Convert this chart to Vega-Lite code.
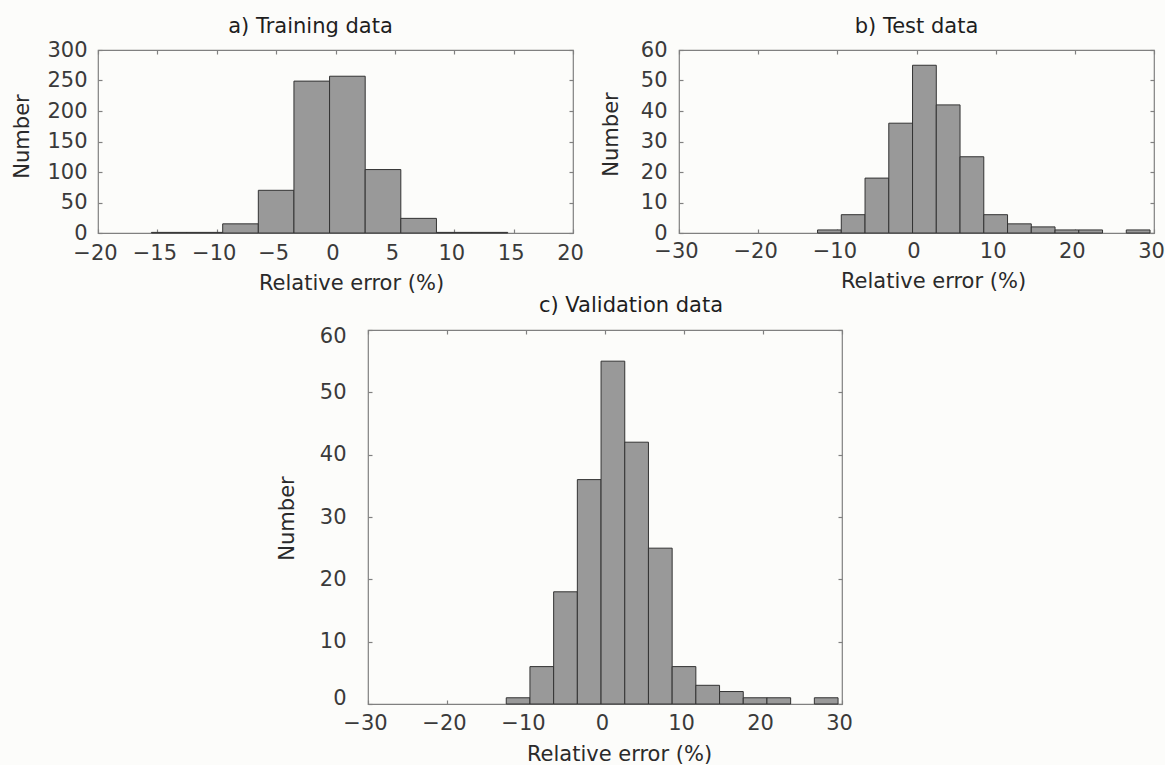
{
  "$schema": "https://vega.github.io/schema/vega-lite/v6.json",
  "background": "#fcfcfa",
  "padding": {"left": 10, "top": 15, "right": 0, "bottom": 0},
  "config": {
    "font": "DejaVu Sans",
    "view": {"stroke": "#808080", "strokeWidth": 1.2},
    "axis": {
      "domain": false,
      "grid": false,
      "tickColor": "#808080",
      "tickSize": -4,
      "tickWidth": 1.2,
      "labelFont": "DejaVu Sans",
      "labelFontSize": 21,
      "labelColor": "#3a3a3a",
      "labelOverlap": false,
      "titleFont": "DejaVu Sans",
      "titleFontSize": 21,
      "titleFontWeight": "normal",
      "titleColor": "#2a2a2a"
    },
    "title": {
      "font": "DejaVu Sans",
      "fontSize": 21,
      "fontWeight": "normal",
      "color": "#1e1e1e",
      "anchor": "middle",
      "frame": "group",
      "baseline": "bottom"
    }
  },
  "datasets": {
    "train": [
      {"lo": -15.5, "hi": -12.5, "count": 1},
      {"lo": -12.5, "hi": -9.5, "count": 1},
      {"lo": -9.5, "hi": -6.5, "count": 15},
      {"lo": -6.5, "hi": -3.5, "count": 70},
      {"lo": -3.5, "hi": -0.5, "count": 249},
      {"lo": -0.5, "hi": 2.5, "count": 257},
      {"lo": 2.5, "hi": 5.5, "count": 104},
      {"lo": 5.5, "hi": 8.5, "count": 24},
      {"lo": 8.5, "hi": 11.5, "count": 1},
      {"lo": 11.5, "hi": 14.5, "count": 1}
    ],
    "test": [
      {"lo": -12.5, "hi": -9.5, "count": 1},
      {"lo": -9.5, "hi": -6.5, "count": 6},
      {"lo": -6.5, "hi": -3.5, "count": 18},
      {"lo": -3.5, "hi": -0.5, "count": 36},
      {"lo": -0.5, "hi": 2.5, "count": 55},
      {"lo": 2.5, "hi": 5.5, "count": 42},
      {"lo": 5.5, "hi": 8.5, "count": 25},
      {"lo": 8.5, "hi": 11.5, "count": 6},
      {"lo": 11.5, "hi": 14.5, "count": 3},
      {"lo": 14.5, "hi": 17.5, "count": 2},
      {"lo": 17.5, "hi": 20.5, "count": 1},
      {"lo": 20.5, "hi": 23.5, "count": 1},
      {"lo": 26.5, "hi": 29.5, "count": 1}
    ],
    "valid": [
      {"lo": -12.5, "hi": -9.5, "count": 1},
      {"lo": -9.5, "hi": -6.5, "count": 6},
      {"lo": -6.5, "hi": -3.5, "count": 18},
      {"lo": -3.5, "hi": -0.5, "count": 36},
      {"lo": -0.5, "hi": 2.5, "count": 55},
      {"lo": 2.5, "hi": 5.5, "count": 42},
      {"lo": 5.5, "hi": 8.5, "count": 25},
      {"lo": 8.5, "hi": 11.5, "count": 6},
      {"lo": 11.5, "hi": 14.5, "count": 3},
      {"lo": 14.5, "hi": 17.5, "count": 2},
      {"lo": 17.5, "hi": 20.5, "count": 1},
      {"lo": 20.5, "hi": 23.5, "count": 1},
      {"lo": 26.5, "hi": 29.5, "count": 1}
    ]
  },
  "spacing": 280,
  "bounds": "flush",
  "vconcat": [
    {
      "spacing": 106,
      "bounds": "flush",
      "hconcat": [
        {
          "width": 475,
          "height": 183,
          "data": {"name": "train"},
          "title": {"text": "a)  Training data", "dx": -25, "offset": 2},
          "layer": [
            {
              "mark": {"type": "bar", "fill": "#999999", "stroke": "#333333", "strokeWidth": 1},
              "encoding": {
                "x": {
                  "field": "lo", "type": "quantitative",
                  "scale": {"domain": [-20, 20], "nice": false, "zero": false},
                  "axis": {"orient": "bottom", "values": [-20, -15, -10, -5, 0, 5, 10, 15, 20], "title": "Relative error (%)", "labelPadding": 13, "labelOffset": -3, "labelFlush": false, "titleX": 253, "titleY": 39, "titleAlign": "center", "titleBaseline": "top"}
                },
                "x2": {"field": "hi"},
                "y": {
                  "field": "count", "type": "quantitative",
                  "scale": {"domain": [0, 300], "nice": false},
                  "axis": {"orient": "left", "values": [0, 50, 100, 150, 200, 250, 300], "title": "Number", "labelPadding": 15, "titleX": -66, "titleY": 86, "titleAlign": "center", "titleBaseline": "bottom"}
                },
                "y2": {"datum": 0}
              }
            },
            {
              "mark": {"type": "bar", "opacity": 0},
              "encoding": {
                "x": {"field": "lo", "type": "quantitative", "axis": {"orient": "top", "values": [-20, -15, -10, -5, 0, 5, 10, 15, 20], "labels": false, "title": null}},
                "x2": {"field": "hi"},
                "y": {"field": "count", "type": "quantitative", "axis": {"orient": "right", "values": [0, 50, 100, 150, 200, 250, 300], "labels": false, "title": null}},
                "y2": {"datum": 0}
              }
            }
          ],
          "resolve": {"axis": {"x": "independent", "y": "independent"}}
        },
        {
          "width": 475,
          "height": 183,
          "data": {"name": "test"},
          "title": {"text": "b)  Test data", "offset": 2},
          "layer": [
            {
              "mark": {"type": "bar", "fill": "#999999", "stroke": "#333333", "strokeWidth": 1},
              "encoding": {
                "x": {
                  "field": "lo", "type": "quantitative",
                  "scale": {"domain": [-30, 30], "nice": false, "zero": false},
                  "axis": {"orient": "bottom", "values": [-30, -20, -10, 0, 10, 20, 30], "title": "Relative error (%)", "labelPadding": 11, "labelOffset": -3, "labelFlush": false, "titleX": 254, "titleY": 37, "titleAlign": "center", "titleBaseline": "top"}
                },
                "x2": {"field": "hi"},
                "y": {
                  "field": "count", "type": "quantitative",
                  "scale": {"domain": [0, 60], "nice": false},
                  "axis": {"orient": "left", "values": [0, 10, 20, 30, 40, 50, 60], "title": "Number", "labelPadding": 16, "titleX": -58, "titleY": 84, "titleAlign": "center", "titleBaseline": "bottom"}
                },
                "y2": {"datum": 0}
              }
            },
            {
              "mark": {"type": "bar", "opacity": 0},
              "encoding": {
                "x": {"field": "lo", "type": "quantitative", "axis": {"orient": "top", "values": [-30, -20, -10, 0, 10, 20, 30], "labels": false, "title": null}},
                "x2": {"field": "hi"},
                "y": {"field": "count", "type": "quantitative", "axis": {"orient": "right", "values": [0, 10, 20, 30, 40, 50, 60], "labels": false, "title": null}},
                "y2": {"datum": 0}
              }
            }
          ],
          "resolve": {"axis": {"x": "independent", "y": "independent"}}
        }
      ]
    },
    {
      "spacing": 0,
      "bounds": "flush",
      "hconcat": [
        {
          "width": 270,
          "height": 1,
          "data": {"values": []},
          "mark": "point",
          "encoding": {},
          "view": {"stroke": null}
        },
        {
          "width": 474,
          "height": 374,
          "data": {"name": "valid"},
          "title": {"text": "c) Validation data", "dx": 26, "offset": 10},
          "layer": [
            {
              "mark": {"type": "bar", "fill": "#999999", "stroke": "#333333", "strokeWidth": 1},
              "encoding": {
                "x": {
                  "field": "lo", "type": "quantitative",
                  "scale": {"domain": [-30, 30], "nice": false, "zero": false},
                  "axis": {"orient": "bottom", "values": [-30, -20, -10, 0, 10, 20, 30], "title": "Relative error (%)", "labelPadding": 12, "labelOffset": -3, "labelFlush": false, "titleX": 251, "titleY": 39, "titleAlign": "center", "titleBaseline": "top"}
                },
                "x2": {"field": "hi"},
                "y": {
                  "field": "count", "type": "quantitative",
                  "scale": {"domain": [0, 60], "nice": false},
                  "axis": {"orient": "left", "values": [0, 10, 20, 30, 40, 50, 60], "title": "Number", "labelPadding": 26, "labelFlush": true, "labelFlushOffset": 4.5, "titleX": -71, "titleY": 188, "titleAlign": "center", "titleBaseline": "bottom"}
                },
                "y2": {"datum": 0}
              }
            },
            {
              "mark": {"type": "bar", "opacity": 0},
              "encoding": {
                "x": {"field": "lo", "type": "quantitative", "axis": {"orient": "top", "values": [-30, -20, -10, 0, 10, 20, 30], "labels": false, "title": null}},
                "x2": {"field": "hi"},
                "y": {"field": "count", "type": "quantitative", "axis": {"orient": "right", "values": [0, 10, 20, 30, 40, 50, 60], "labels": false, "title": null}},
                "y2": {"datum": 0}
              }
            }
          ],
          "resolve": {"axis": {"x": "independent", "y": "independent"}}
        }
      ]
    }
  ]
}
